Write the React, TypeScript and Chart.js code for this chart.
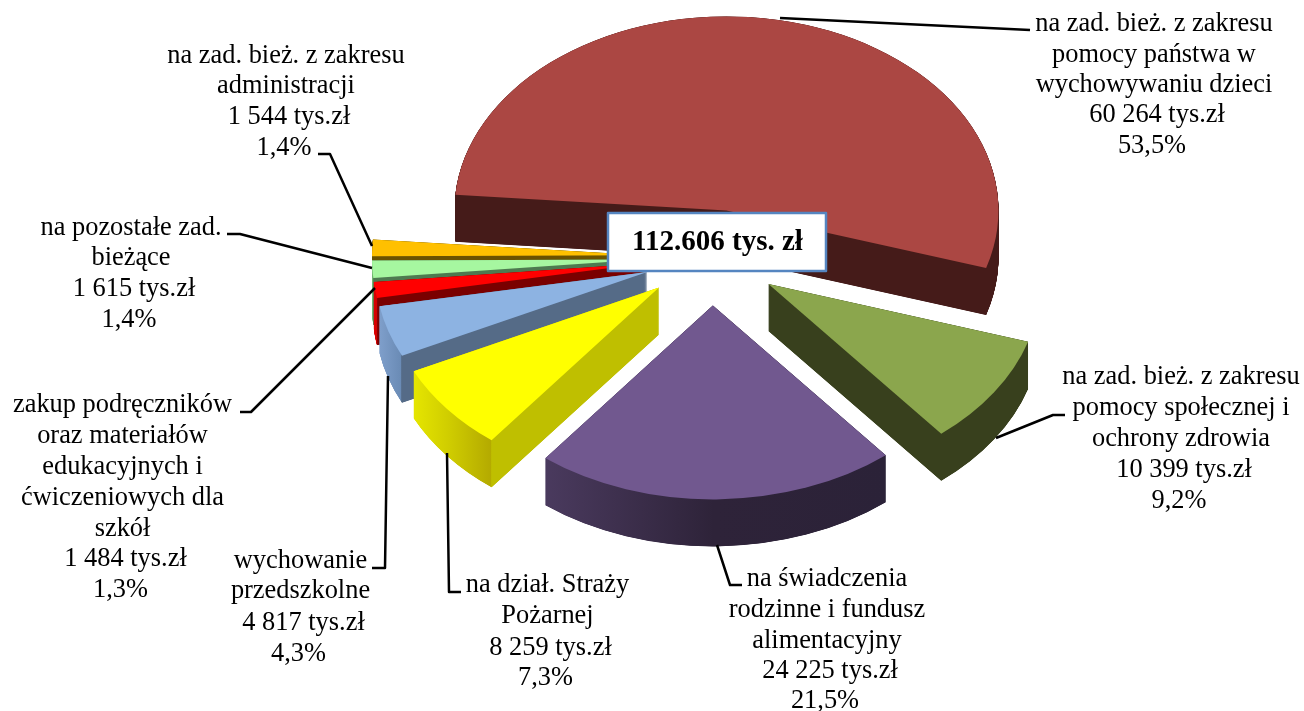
import React, { useEffect, useRef } from "react";
import { Chart, registerables } from "chart.js";

Chart.register(...registerables);

// ---- data ----
const categories = [
  "na zad. bież. z zakresu pomocy państwa w wychowywaniu dzieci",
  "na zad. bież. z zakresu pomocy społecznej i ochrony zdrowia",
  "na świadczenia rodzinne i fundusz alimentacyjny",
  "na dział. Straży Pożarnej",
  "wychowanie przedszkolne",
  "zakup podręczników oraz materiałów edukacyjnych i ćwiczeniowych dla szkół",
  "na pozostałe zad. bieżące",
  "na zad. bież. z zakresu administracji",
];
const values = [60264, 10399, 24225, 8259, 4817, 1484, 1615, 1544];
const totalLabel = "112.606 tys. zł";
const labelLines = [
  ["na zad. bież. z zakresu", "pomocy państwa w", "wychowywaniu dzieci", "60 264 tys.zł", "53,5%"],
  ["na zad. bież. z zakresu", "pomocy społecznej i", "ochrony zdrowia", "10 399 tys.zł", "9,2%"],
  ["na świadczenia", "rodzinne i fundusz", "alimentacyjny", "24 225 tys.zł", "21,5%"],
  ["na dział. Straży", "Pożarnej", "8 259 tys.zł", "7,3%"],
  ["wychowanie", "przedszkolne", "4 817 tys.zł", "4,3%"],
  ["zakup podręczników", "oraz materiałów", "edukacyjnych i", "ćwiczeniowych dla", "szkół", "1 484 tys.zł", "1,3%"],
  ["na pozostałe zad.", "bieżące", "1 615 tys.zł", "1,4%"],
  ["na zad. bież. z zakresu", "administracji", "1 544 tys.zł", "1,4%"],
];

// ---- styles / layout ----
const W = 1304, H = 711;
const CX = 712, CY = 257, RADIUS = 272, TILT = 0.713, EXPLODE = 68, DEPTH = 47, DEPTH_STEP = 0.25;
const ROTATION = 274.64;
const topColors = ["#ab4743", "#8ba64d", "#71588f", "#ffff00", "#8db3e2", "#ff0000", "#a6f7a0", "#ffc000"];
const nudges: number[][] = [[1.5, 1], [0, 0], [0, 0], [0, 0], [0, 0], [0, 0], [0, 0], [0, 0]];
type Stop = [number, string];
const sideStops: Stop[][] = [
  [[450, "#451b19"], [1000, "#451b19"]],
  [[770, "#38401d"], [1035, "#38401d"]],
  [[545, "#4a3a5e"], [714, "#2e2339"], [887, "#2b2238"]],
  [[413, "#e6e600"], [450, "#cfcc00"], [491, "#b4aa00"], [491.6, "#bfbf00"], [660, "#bfbf00"]],
  [[379, "#7f9fcb"], [401, "#6a8bb5"], [401.6, "#556b87"], [650, "#556b87"]],
  [[373, "#e00000"], [377, "#d00000"], [377.6, "#7a0000"], [650, "#7a0000"]],
  [[372, "#6fb56f"], [373, "#6fb56f"], [373.6, "#4e7a50"], [650, "#4e7a50"]],
  [[370, "#6b5200"], [650, "#6b5200"]],
];
const drawOrder = [0, 7, 6, 5, 4, 3, 1, 2];
const labelAnchors: { x: number; y: number[] }[] = [
  { x: 1154, y: [31, 62, 92, 122, 153] },
  { x: 1181, y: [384, 415, 446, 477, 508] },
  { x: 827, y: [586, 617, 648, 678, 708] },
  { x: 547.5, y: [592, 623, 655, 685] },
  { x: 300.5, y: [568, 598, 630, 661] },
  { x: 122.5, y: [412, 443, 474, 505, 536, 566, 597] },
  { x: 131, y: [235, 265, 296, 327] },
  { x: 286, y: [63, 93, 124, 155] },
];
const leaders: number[][][] = [
  [[780, 18], [1030, 30]],
  [[996, 438], [1053, 415], [1065, 415]],
  [[717, 545], [730, 585], [742, 585]],
  [[447, 453], [449, 592], [461, 592]],
  [[388, 376], [385, 568], [372, 568]],
  [[375, 288], [251, 412], [240, 412]],
  [[372, 268], [240, 234], [227, 234]],
  [[372, 246], [330, 154], [318, 154]],
];
const box = { x: 608, y: 213, w: 218, h: 58 };
const FONT = '"Liberation Serif", "Times New Roman", serif';

function baseOpts(color: unknown) {
  return {
    backgroundColor: color, borderColor: "transparent", borderWidth: 0, borderAlign: "center",
    offset: 0, spacing: 0, circular: true, borderRadius: 0, borderJoinStyle: "round",
  };
}

const pie3d = {
  id: "pie3d",
  beforeDatasetsDraw(chart: any) {
    const ctx = chart.ctx as CanvasRenderingContext2D;
    const arcs = chart.getDatasetMeta(0).data;
    for (const i of drawOrder) {
      const arc = arcs[i];
      const mid = (arc.startAngle + arc.endAngle) / 2;
      const dx = Math.cos(mid) * EXPLODE + nudges[i][0];
      const dy = Math.sin(mid) * EXPLODE * TILT + nudges[i][1];
      const saved = arc.options;
      const stops = sideStops[i];
      const x0 = stops[0][0], x1 = stops[stops.length - 1][0];
      const grad = ctx.createLinearGradient(x0 - dx, 0, x1 - dx, 0);
      stops.forEach(([x, c]) => grad.addColorStop((x - x0) / (x1 - x0), c));
      arc.options = baseOpts(grad);
      for (let d = DEPTH; d >= 0; d -= DEPTH_STEP) {
        ctx.save();
        ctx.translate(arc.x + dx, arc.y + dy + d);
        ctx.scale(1, TILT);
        ctx.translate(-arc.x, -arc.y);
        arc.draw(ctx);
        ctx.restore();
      }
      arc.options = baseOpts(topColors[i]);
      ctx.save();
      ctx.translate(arc.x + dx, arc.y + dy);
      ctx.scale(1, TILT);
      ctx.translate(-arc.x, -arc.y);
      arc.draw(ctx);
      ctx.restore();
      arc.options = saved;
    }
    return false;
  },
  afterDraw(chart: any) {
    const ctx = chart.ctx as CanvasRenderingContext2D;
    ctx.save();
    ctx.strokeStyle = "#000";
    ctx.lineWidth = 2.5;
    ctx.lineJoin = "round";
    for (const pts of leaders) {
      ctx.beginPath();
      pts.forEach(([x, y], k) => (k ? ctx.lineTo(x, y) : ctx.moveTo(x, y)));
      ctx.stroke();
    }
    ctx.fillStyle = "#fff";
    ctx.fillRect(box.x, box.y, box.w, box.h);
    ctx.strokeStyle = "#5585c0";
    ctx.lineWidth = 2.5;
    ctx.strokeRect(box.x, box.y, box.w, box.h);
    ctx.fillStyle = "#000";
    ctx.textAlign = "center";
    ctx.textBaseline = "alphabetic";
    ctx.font = `bold 29px ${FONT}`;
    ctx.fillText(totalLabel, box.x + box.w / 2 + 0.5, 250);
    ctx.font = `26.4px ${FONT}`;
    labelLines.forEach((lines, i) => {
      lines.forEach((t, j) => {
        const shift = t.includes("tys") ? 3 : t.includes("%") ? -2 : 0;
        ctx.fillText(t, labelAnchors[i].x + shift, labelAnchors[i].y[j]);
      });
    });
    ctx.restore();
  },
};

export default function App() {
  const ref = useRef<HTMLCanvasElement>(null);
  useEffect(() => {
    const chart = new Chart(ref.current!, {
      type: "pie",
      data: {
        labels: categories,
        datasets: [{ data: values, backgroundColor: topColors, borderWidth: 0 }],
      },
      options: {
        responsive: false,
        animation: false,
        rotation: ROTATION,
        radius: RADIUS,
        layout: { padding: { left: 2 * CX - W, top: 0, right: 0, bottom: H - 2 * CY } },
        plugins: { legend: { display: false }, tooltip: { enabled: false } },
      },
      plugins: [pie3d],
    } as any);
    return () => chart.destroy();
  }, []);
  return (
    <div style={{ position: "absolute", left: 0, top: 0, width: W, height: H, overflow: "hidden", background: "#fff" }}>
      <canvas ref={ref} width={W} height={H} style={{ display: "block" }} />
    </div>
  );
}
